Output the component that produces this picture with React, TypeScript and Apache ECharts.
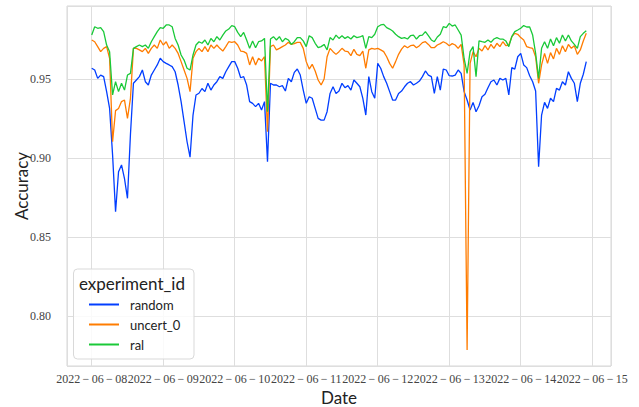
import React, { useEffect, useRef } from "react";
import * as echarts from "echarts";

// x grid: hours since 2022-06-08 00:00, one reading per hour
const startLabel = "2022-06-08";
const stepHours = 1;

const dateTicks = [
  "2022-06-08", "2022-06-09", "2022-06-10", "2022-06-11",
  "2022-06-12", "2022-06-13", "2022-06-14", "2022-06-15",
];

const yTicks = [0.8, 0.85, 0.9, 0.95];

const seriesNames = ["random", "uncert_0", "ral"];

const randomAcc = [
  0.9568, 0.9557, 0.9504, 0.9525, 0.9515, 0.942, 0.9314, 0.902, 0.866, 0.8913,
  0.8956, 0.887, 0.8745, 0.915, 0.9473, 0.9494, 0.9515, 0.9557, 0.9483, 0.9462,
  0.9525, 0.9557, 0.9589, 0.9631, 0.961, 0.9599, 0.9589, 0.9578, 0.9546, 0.9462,
  0.9357, 0.923, 0.9103, 0.9005, 0.9272, 0.9399, 0.941, 0.944, 0.942, 0.9473,
  0.943, 0.9462, 0.9483, 0.9515, 0.9504, 0.9546, 0.9578, 0.961, 0.961, 0.9568,
  0.9508, 0.9515, 0.9462, 0.9357, 0.9346, 0.9325, 0.9346, 0.9304, 0.9357, 0.8977,
  0.9473, 0.9462, 0.9462, 0.9451, 0.9458, 0.9424, 0.9504, 0.9483, 0.9542, 0.9563,
  0.9525, 0.943, 0.9346, 0.9388, 0.9378, 0.9314, 0.9251, 0.924, 0.924, 0.9293,
  0.9409, 0.9451, 0.9409, 0.9424, 0.9473, 0.9445, 0.9458, 0.943, 0.9494, 0.9473,
  0.9451, 0.9378, 0.9272, 0.9515, 0.942, 0.9378, 0.9599, 0.9568, 0.9515, 0.9473,
  0.942, 0.9367, 0.9367, 0.9409, 0.9424, 0.9451, 0.9473, 0.9483, 0.9462, 0.9473,
  0.9487, 0.9515, 0.9551, 0.9525, 0.9515, 0.9409, 0.9515, 0.943, 0.9563, 0.9557,
  0.9521, 0.9519, 0.9525, 0.9557, 0.9536, 0.942, 0.9367, 0.9304, 0.9352, 0.9293,
  0.9331, 0.9388, 0.9403, 0.9445, 0.9483, 0.9494, 0.9462, 0.9504, 0.9494, 0.9504,
  0.9399, 0.9572, 0.9563, 0.9641, 0.9662, 0.9589, 0.9572, 0.9521, 0.9483, 0.9424,
  0.8945, 0.9272, 0.9352, 0.9314, 0.9378, 0.9357, 0.9441, 0.943, 0.9483, 0.9462,
  0.9546, 0.9504, 0.9473, 0.9357, 0.9473, 0.953, 0.961,
];

const uncertAcc = [
  0.9747, 0.9736, 0.9705, 0.9673, 0.9694, 0.9705, 0.9631, 0.9103, 0.93, 0.9314,
  0.9357, 0.9367, 0.9251, 0.9378, 0.9694, 0.9694, 0.9684, 0.9673, 0.9694, 0.9662,
  0.9694, 0.9715, 0.9694, 0.9747, 0.9715, 0.9736, 0.9694, 0.9715, 0.9694, 0.9662,
  0.961, 0.9557, 0.9504, 0.942, 0.9631, 0.9673, 0.9694, 0.9673, 0.9705, 0.9673,
  0.9715, 0.9694, 0.9715, 0.9694, 0.9677, 0.9705, 0.9736, 0.9732, 0.9736, 0.9715,
  0.9677, 0.9673, 0.9662, 0.9589, 0.9641, 0.9589, 0.9631, 0.9614, 0.9641, 0.9167,
  0.9705, 0.9715, 0.9684, 0.9694, 0.9705, 0.9715, 0.9732, 0.9719, 0.9724, 0.9732,
  0.9732, 0.9694, 0.961, 0.9563, 0.9593, 0.9551, 0.9494, 0.9462, 0.95, 0.9641,
  0.9694, 0.9673, 0.9656, 0.9673, 0.9694, 0.9677, 0.9673, 0.9648, 0.9688, 0.9656,
  0.9648, 0.9677, 0.9568, 0.9684, 0.9694, 0.9689, 0.9694, 0.9684, 0.9673, 0.9641,
  0.9599, 0.9568, 0.961, 0.9656, 0.9689, 0.9711, 0.9698, 0.9711, 0.9715, 0.9698,
  0.9711, 0.973, 0.9736, 0.9719, 0.9698, 0.9698, 0.9715, 0.9724, 0.9736, 0.9726,
  0.9711, 0.9724, 0.9715, 0.9694, 0.9719, 0.9589, 0.7785, 0.9599, 0.9673, 0.9641,
  0.9694, 0.9677, 0.9711, 0.9684, 0.9719, 0.9694, 0.9726, 0.9705, 0.9736, 0.9711,
  0.9715, 0.9768, 0.9789, 0.9783, 0.9762, 0.9747, 0.9705, 0.9698, 0.9694, 0.9641,
  0.9473, 0.9589, 0.9662, 0.9599, 0.9667, 0.9627, 0.9694, 0.9656, 0.9711, 0.9673,
  0.9719, 0.9694, 0.9711, 0.9656, 0.9684, 0.9741, 0.9789,
];

const ralAcc = [
  0.9778, 0.9831, 0.9821, 0.9825, 0.98, 0.9715, 0.9673, 0.9399, 0.9483, 0.942,
  0.9473, 0.943, 0.9525, 0.9536, 0.9694, 0.9705, 0.9715, 0.9705, 0.9715, 0.9694,
  0.9736, 0.9768, 0.98, 0.9825, 0.9821, 0.9842, 0.9842, 0.9831, 0.9757, 0.9715,
  0.9652, 0.962, 0.9568, 0.9557, 0.9652, 0.9715, 0.9736, 0.9726, 0.9747, 0.9715,
  0.9757, 0.9736, 0.9768, 0.9747, 0.9778, 0.9804, 0.9816, 0.9838, 0.9831, 0.9795,
  0.9768, 0.9795, 0.9747, 0.9694, 0.9741, 0.9698, 0.9736, 0.9741, 0.9757, 0.9293,
  0.9753, 0.9768, 0.9747, 0.9768, 0.9736, 0.9757, 0.9747, 0.9719, 0.9736, 0.9762,
  0.9762, 0.9741, 0.9705, 0.9774, 0.9762, 0.9726, 0.9698, 0.9705, 0.9719, 0.9684,
  0.9762, 0.9747, 0.9778, 0.9757, 0.9774, 0.9757, 0.9768, 0.9753, 0.9774, 0.9762,
  0.9766, 0.9774, 0.9694, 0.9768, 0.9762, 0.9783, 0.9831, 0.9842, 0.9846, 0.9825,
  0.9816, 0.9804, 0.9783, 0.9768, 0.9757, 0.9762, 0.9753, 0.9774, 0.9778, 0.9753,
  0.9774, 0.9778, 0.98, 0.9774, 0.9747, 0.9736, 0.9766, 0.9783, 0.9831, 0.9825,
  0.9852, 0.9835, 0.9842, 0.981, 0.9778, 0.963, 0.9536, 0.9673, 0.9705, 0.9515,
  0.9741, 0.9736, 0.9732, 0.9747, 0.9732, 0.9753, 0.9762, 0.9753, 0.9753, 0.9741,
  0.9705, 0.9768, 0.98, 0.981, 0.9821, 0.9838, 0.9829, 0.9829, 0.9778, 0.9662,
  0.9504, 0.9694, 0.9736, 0.9694, 0.9753, 0.9711, 0.9762, 0.9726, 0.9778, 0.9741,
  0.9778, 0.9741, 0.9719, 0.9694, 0.9768, 0.9789, 0.9805,
];

const colors = ["#023eff", "#ff7c00", "#1ac938"];

function toPairs(values: number[]) {
  return values.map((v, i) => [i * stepHours, v]);
}

export default function App() {
  const ref = useRef<HTMLDivElement>(null);

  useEffect(() => {
    document.body.style.margin = "0";
    if (!ref.current) return;
    const chart = echarts.init(ref.current, null, { renderer: "svg" });
    const allSeries = [randomAcc, uncertAcc, ralAcc];
    const lastHour = (randomAcc.length - 1) * stepHours;
    const pad = lastHour * 0.05;
    const yMin = 0.7684;
    const yMax = 0.9962;

    const option = {
      animation: false,
      backgroundColor: "#ffffff",
      grid: {
        left: 67,
        right: 28,
        top: 6,
        bottom: 41,
        show: true,
        borderColor: "#d6d6d6",
        borderWidth: 1,
        backgroundColor: "transparent",
      },
      xAxis: {
        type: "value",
        min: -pad,
        max: lastHour + pad,
        minInterval: 24,
        maxInterval: 24,
        splitNumber: 7,
        axisLine: { show: false },
        axisTick: { show: false },
        splitLine: { show: true, lineStyle: { color: "#dedede", width: 1 } },
        axisLabel: {
          margin: 7,
          fontFamily: "Liberation Serif",
          fontSize: 12,
          color: "#444",
          formatter: (v: number) => {
            const idx = v / 24;
            if (Math.abs(idx - Math.round(idx)) > 1e-6) return "";
            const s = dateTicks[Math.round(idx)];
            return s ? s.replace(/-/g, "\u2009\u2212\u2009") : "";
          },
        },
      },
      yAxis: {
        type: "value",
        min: yMin,
        max: yMax,
        minInterval: 0.05,
        maxInterval: 0.05,
        axisLine: { show: false },
        axisTick: { show: false },
        splitLine: { show: true, lineStyle: { color: "#dedede", width: 1 } },
        axisLabel: {
          margin: 16,
          fontFamily: "Liberation Serif",
          fontSize: 12,
          color: "#444",
          formatter: (v: number) => {
            const hit = yTicks.find((t) => Math.abs(t - v) < 1e-6);
            return hit !== undefined ? hit.toFixed(2) : "";
          },
        },
      },
      legend: {
        data: seriesNames,
        orient: "vertical",
        left: 89,
        top: 298,
        padding: 0,
        itemWidth: 30,
        itemHeight: 2,
        itemGap: 7,
        icon: "rect",
        z: 10,
        textStyle: {
          fontFamily: "Lato",
          fontSize: 13,
          color: "#222",
          padding: [0, 0, 0, 6],
        },
      },
      graphic: [
        {
          type: "rect",
          z: 3,
          shape: { x: 73.5, y: 269, width: 120.5, height: 90, r: 4 },
          style: { fill: "rgba(255,255,255,0.85)", stroke: "#d9d9d9", lineWidth: 1 },
        },
        {
          type: "text",
          z: 11,
          x: 79,
          y: 283,
          style: {
            text: "experiment_id",
            fontFamily: "Lato",
            fontSize: 17,
            fill: "#222",
            verticalAlign: "middle",
          },
        },
        {
          type: "text",
          z: 11,
          x: 21.5,
          y: 186,
          rotation: Math.PI / 2,
          style: {
            text: "Accuracy",
            fontFamily: "Lato",
            fontSize: 17,
            fill: "#222",
            align: "center",
            verticalAlign: "middle",
          },
        },
        {
          type: "text",
          z: 11,
          x: 339,
          y: 397,
          style: {
            text: "Date",
            fontFamily: "Lato",
            fontSize: 17,
            fill: "#222",
            align: "center",
            verticalAlign: "middle",
          },
        },
      ],
      series: seriesNames.map((name, i) => ({
        name,
        type: "line",
        data: toPairs(allSeries[i]),
        showSymbol: false,
        symbol: "none",
        color: colors[i],
        lineStyle: { color: colors[i], width: 1.3 },
        z: 2 + i * 0.1,
      })),
    };

    chart.setOption(option as any);
    return () => chart.dispose();
  }, []);

  return <div ref={ref} style={{ width: 639, height: 407 }} />;
}
